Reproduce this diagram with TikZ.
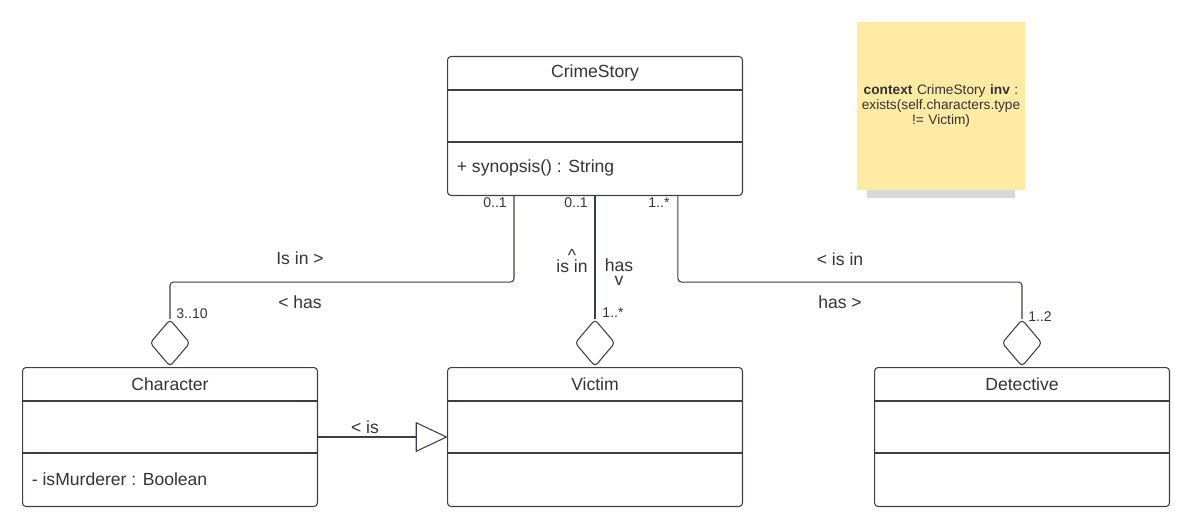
\documentclass[tikz,border=0pt]{standalone}
\usepackage{fontspec}
\setmainfont{Liberation Sans}
\usetikzlibrary{arrows.meta,calc,positioning,shapes.geometric,shadows}
\definecolor{umlline}{HTML}{3A3F45}
\definecolor{umltext}{HTML}{333333}
\definecolor{notefill}{HTML}{FFEBA3}
\tikzset{
  classbox/.style={draw=umlline, line width=0.6pt, rounded corners=2pt, minimum width=5.9cm, minimum height=2.78cm, anchor=north west, inner sep=0pt},
  classname/.style={font=\fontsize{10}{12}\selectfont, text=umltext},
  member/.style={font=\fontsize{10}{12}\selectfont, text=umltext, anchor=west, inner sep=0pt},
  assoc/.style={draw=umlline, line width=0.6pt, rounded corners=2pt},
  aggr/.style={diamond, draw=umlline, line width=0.6pt, fill=white, minimum width=0.8cm, minimum height=0.94cm, inner sep=0pt, rounded corners=2pt},
  mult/.style={font=\fontsize{8}{9}\selectfont, text=umltext},
  role/.style={font=\fontsize{10}{12}\selectfont, text=umltext, align=center},
  gen/.style={draw=umlline, line width=0.6pt, -{Triangle[open,length=0.64cm,width=0.6cm,round]}},
  note/.style={fill=notefill, minimum width=3.36cm, minimum height=3.36cm, inner sep=1pt, text width=3.3cm, align=center, font=\fontsize{7.8}{8.6}\selectfont, text=umltext, drop shadow={shadow xshift=0pt, shadow yshift=-0.4cm, shadow scale=0.88, opacity=0.3}}
}
% class box: name, corner, title, operation
\newcommand{\umlclass}[4]{%
  \node[classbox] (#1) at (#2) {};
  \draw[assoc] ([yshift=-0.68cm]#1.north west) -- ([yshift=-0.68cm]#1.north east);
  \draw[assoc] ([yshift=-1.72cm]#1.north west) -- ([yshift=-1.72cm]#1.north east);
  \node[classname] (#1-name) at ([yshift=-0.34cm]#1.north) {#3};
  \node[member] (#1-op) at ([yshift=-2.24cm,xshift=0.19cm]#1.north west) {#4};
}
\begin{document}
\begin{tikzpicture}[x=0.02cm,y=-0.02cm]
\useasboundingbox (0,0) rectangle (1189,520);

\umlclass{story}{447,56}{CrimeStory}{+ synopsis() : String}
\umlclass{char}{22,367}{Character}{- isMurderer : Boolean}
\umlclass{victim}{447,367}{Victim}{}
\umlclass{det}{874,367}{Detective}{}

\node[note] (ocl) at (941,106) {{\bfseries context} CrimeStory {\bfseries inv} :\\exists(self.characters.type\\!= Victim)};

% aggregations
\node[aggr, anchor=south] (aggChar) at (char.north) {};
\node[aggr, anchor=south] (aggVictim) at (victim.north) {};
\node[aggr, anchor=south] (aggDet) at (det.north) {};

\draw[assoc] ([xshift=1.34cm]story.south west) -- ++(0,86) -| (aggChar.north);
\draw[assoc] (story.south) -- (aggVictim.north);
\draw[assoc] ([xshift=4.62cm]story.south west) -- ++(0,86) -| (aggDet.north);

% generalization
\draw[gen] (char.east) -- (victim.west);

% multiplicities
\node[mult] (mChar1) at (495,203) {0..1};
\node[mult] (mVic1) at (576,203) {0..1};
\node[mult] (mDet1) at (659,203) {1..*};
\node[mult] (mChar2) at (192,314) {3..10};
\node[mult] (mVic2) at (613,313) {1..*};
\node[mult] (mDet2) at (1040,317) {1..2};

% roles
\node[role] (rChar1) at (300,258) {Is in >};
\node[role] (rChar2) at (300,302) {< has};
\node[role] (rVic1) at (572,261) {\textasciicircum\\[-6pt]is in};
\node[role] (rVic2) at (619,272) {has\\[-4pt]v};
\node[role] (rDet1) at (840,259) {< is in};
\node[role] (rDet2) at (840,302) {has >};
\node[role] (rGen) at (365,427) {< is};
\end{tikzpicture}
\end{document}
